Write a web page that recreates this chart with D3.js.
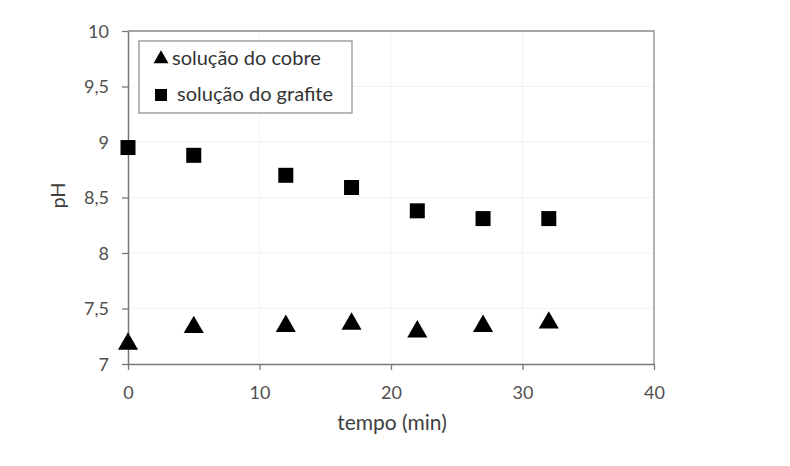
<!DOCTYPE html>
<html>
<head>
<meta charset="utf-8">
<script src="https://cdn.jsdelivr.net/npm/d3@7"></script>
<style>
body{margin:0;background:#fff;}
text{font-family:Lato,"Open Sans",sans-serif;}
</style>
</head>
<body>
<svg id="chart"></svg>
<script>
// data
var tempo = [0,5,12,17,22,27,32]
var cobre = [7.19,7.34,7.35,7.37,7.30,7.35,7.38]
var grafite = [8.95,8.88,8.70,8.59,8.38,8.31,8.31]
var xTicks = [0,10,20,30,40]
var yTicks = [7,7.5,8,8.5,9,9.5,10]

var screen = {width:790,height:466}
var margins = {left:128,right:136,top:31,bottom:102}
var graph = {
    width:screen.width-margins.left-margins.right,
    height:screen.height-margins.top-margins.bottom
}

var svg = d3.select("#chart")
    .attr("width",screen.width)
    .attr("height",screen.height)

var xScale = d3.scaleLinear().domain([0,40]).range([0,graph.width])
var yScale = d3.scaleLinear().domain([7,10]).range([graph.height,0])

var target = svg.append("g")
    .attr("transform","translate("+margins.left+","+margins.top+")")

// faint grid
target.append("g").selectAll("line")
    .data(xTicks.slice(1,-1))
    .enter().append("line")
    .attr("x1",function(d){return xScale(d)})
    .attr("x2",function(d){return xScale(d)})
    .attr("y1",0).attr("y2",graph.height)
    .attr("stroke","#f3f3f3")
target.append("g").selectAll("line")
    .data(yTicks.slice(1,-1))
    .enter().append("line")
    .attr("y1",function(d){return yScale(d)})
    .attr("y2",function(d){return yScale(d)})
    .attr("x1",0).attr("x2",graph.width)
    .attr("stroke","#f3f3f3")

// frame top and right
target.append("path")
    .attr("d","M0,0H"+graph.width+"V"+graph.height)
    .attr("fill","none")
    .attr("stroke","#8a8a8a")
    .attr("stroke-width",1.3)

var xAxis = d3.axisBottom(xScale).tickValues(xTicks).tickSize(6).tickSizeOuter(0)
    .tickFormat(d3.format("d"))
var yAxis = d3.axisLeft(yScale).tickValues(yTicks).tickSize(6).tickSizeOuter(0)
    .tickFormat(function(d){return String(d).replace(".",",")})

var gx = target.append("g")
    .attr("transform","translate(0,"+graph.height+")")
    .call(xAxis)
var gy = target.append("g").call(yAxis)

;[gx,gy].forEach(function(g){
    g.select(".domain").attr("stroke","#777").attr("stroke-width",1.5)
    g.selectAll(".tick line").attr("stroke","#777").attr("stroke-width",1.3)
    g.selectAll(".tick text").attr("fill","#505050").style("font-size","18px")
        .style("font-family","Lato,sans-serif")
})
gx.selectAll(".tick text").attr("y",35).attr("dy",0)
gy.selectAll(".tick text").attr("x",-19).attr("dy","0.36em")

// triangles
target.append("g").selectAll("path")
    .data(tempo)
    .enter().append("path")
    .attr("d",d3.symbol().type(d3.symbolTriangle).size(175))
    .attr("transform",function(t,i){
        return "translate("+xScale(t)+","+(yScale(cobre[i])+1)+")"})
    .attr("fill","#000")

// squares
target.append("g").selectAll("rect")
    .data(tempo)
    .enter().append("rect")
    .attr("x",function(t){return xScale(t)-7.5})
    .attr("y",function(t,i){return yScale(grafite[i])-7.5})
    .attr("width",15).attr("height",15)
    .attr("fill","#000")

// labels
svg.append("text")
    .text("tempo (min)")
    .attr("text-anchor","middle")
    .attr("x",392)
    .attr("y",430)
    .attr("fill","#404040")
    .style("font-size","21px")
svg.append("g")
    .attr("transform","translate(65,"+(margins.top+graph.height/2-2)+")")
    .append("text")
    .text("pH")
    .attr("text-anchor","middle")
    .attr("transform","rotate(270)")
    .attr("fill","#404040")
    .style("font-size","20px")

// legend
var categories = [
    {name:"solução do cobre",shape:"tri"},
    {name:" solução do grafite",shape:"sq"}
]
var legend = svg.append("g")
    .attr("transform","translate(139,41)")
legend.append("rect")
    .attr("width",213).attr("height",72)
    .attr("fill","#fff").attr("stroke","#8a8a8a").attr("stroke-width",1.2)
var entries = legend.selectAll("g.entry")
    .data(categories)
    .enter().append("g")
    .classed("entry",true)
    .attr("transform",function(c,i){return "translate(22,"+(18+i*36)+")"})
entries.filter(function(c){return c.shape=="tri"})
    .append("path")
    .attr("d",d3.symbol().type(d3.symbolTriangle).size(97))
    .attr("fill","#000")
entries.filter(function(c){return c.shape=="sq"})
    .append("rect")
    .attr("x",-6).attr("y",-6).attr("width",12).attr("height",12)
    .attr("fill","#000")
entries.append("text")
    .text(function(c){return c.name})
    .attr("x",11)
    .attr("y",6)
    .attr("fill","#333")
    .style("font-size","20px")
    .style("white-space","pre")
</script>
</body>
</html>
